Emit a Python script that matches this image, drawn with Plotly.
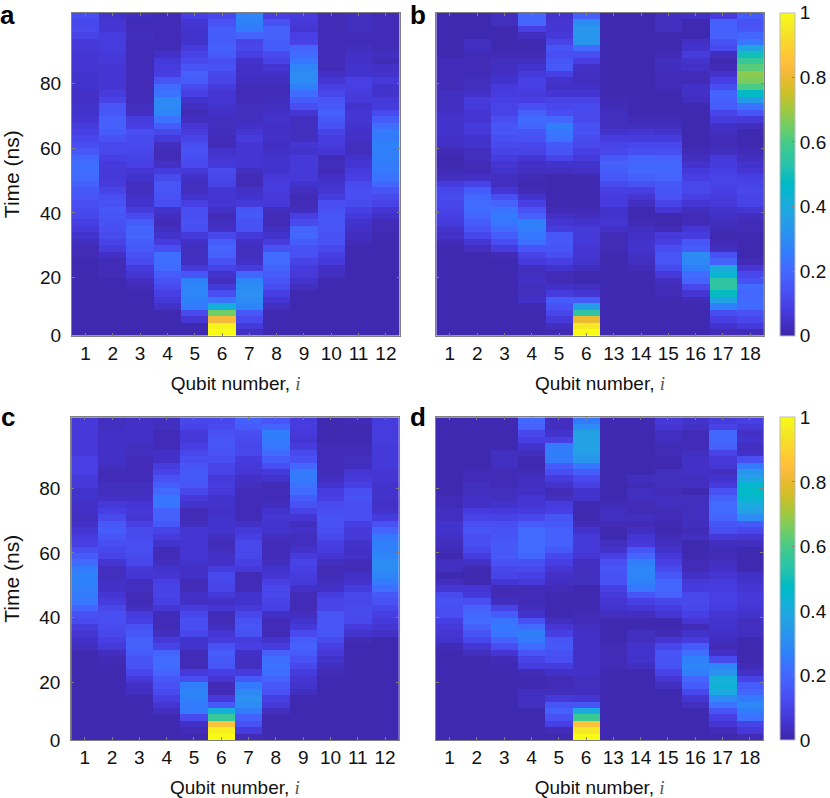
import numpy as np
import plotly.graph_objects as go

time_ns = list(range(3, 102, 2))
qubits_left = ["1","2","3","4","5","6","7","8","9","10","11","12"]
qubits_right = ["1","2","3","4","5","6","13","14","15","16","17","18"]
y_tick_vals = [2, 20, 40, 60, 80]
y_tick_text = ["0", "20", "40", "60", "80"]

# population x 100, one list per qubit, bottom row first
panel_a = [
[1,1,1,1,1,1,1,1,1,1, 1,1,2,2,3,5,7,9,11,12, 13,15,16,18,21,22,22,20,16,13, 11,9,8,6,5,5,4,4,5,5, 5,6,6,6,7,7,10,12,11,13],
[1,1,1,1,1,1,1,1,1,2, 2,2,4,8,10,12,13,14,15,16, 14,13,10,8,7,7,7,9,11,11, 14,17,18,18,16,15,10,8,6,6, 6,6,7,7,8,8,8,6,6,5],
[1,1,1,1,1,1,1,2,3,6, 8,12,14,16,17,19,19,17,12,8, 5,4,3,3,5,6,9,10,11,12, 12,13,9,8,3,3,2,2,2,2, 2,2,2,2,2,2,3,2,2,3],
[1,1,1,1,4,7,9,12,14,17, 21,22,22,13,8,5,3,2,3,5, 13,14,15,15,12,8,4,2,2,3, 7,11,17,23,28,29,29,23,21,15, 9,8,7,4,2,2,2,2,2,2],
[1,1,6,12,25,27,28,28,27,15, 7,3,3,3,4,7,13,14,13,13, 9,5,3,3,4,7,12,13,14,13, 10,8,6,3,2,3,5,9,12,17, 18,15,12,10,8,5,5,5,6,9],
[100,98,82,65,42,23,13,7,3,5, 10,14,18,19,17,11,4,3,2,4, 6,6,6,10,11,12,7,6,5,2, 2,3,3,3,4,5,6,6,8,10, 11,14,13,17,18,17,17,17,14,11],
[3,7,12,16,28,30,31,30,28,20, 8,4,3,3,4,7,14,14,16,15, 7,5,4,2,2,3,6,6,6,6, 8,6,4,3,3,3,2,2,2,3, 4,4,5,9,11,10,19,25,27,28],
[1,1,1,1,3,6,9,13,15,17, 19,21,21,14,8,5,3,2,2,3, 7,7,8,8,7,5,5,5,4,3, 4,4,4,5,4,3,3,2,2,3, 4,6,10,12,17,17,18,18,14,9],
[1,1,1,1,1,1,1,3,5,7, 8,10,14,14,17,20,19,12,9,3, 2,2,3,5,7,7,7,7,5,6, 3,3,3,3,6,13,17,22,27,30, 30,28,24,21,19,10,9,6,7,8],
[1,1,1,1,1,1,1,1,1,3, 4,7,9,11,14,14,15,15,15,14, 13,8,6,5,4,2,3,2,6,8, 8,10,14,16,18,16,15,11,9,6, 4,2,2,2,2,2,2,2,2,2],
[1,1,1,1,1,1,1,1,1,1, 1,1,1,1,2,3,4,5,7,9, 12,13,13,12,9,8,6,5,3,3, 4,4,5,6,6,5,7,8,9,9, 5,5,4,4,3,2,2,3,3,3],
[1,1,1,1,1,1,1,1,1,1, 1,1,1,1,1,1,2,2,4,6, 10,12,15,20,23,25,25,26,26,27, 25,25,22,17,12,8,7,5,5,7, 5,4,2,3,2,2,2,2,2,2],
]

panel_b = [
[1,1,1,1,1,1,1,1,1,1, 1,1,1,1,2,4,5,8,9,10, 11,12,11,8,3,2,1,1,2,4, 4,5,5,5,4,3,3,3,2,2, 2,2,2,1,1,1,1,1,1,1],
[1,1,1,1,1,1,1,1,1,1, 1,1,1,3,6,11,15,17,19,21, 21,20,17,10,4,2,2,3,3,5, 5,7,8,6,6,7,8,4,3,3, 2,2,2,2,3,3,1,1,1,1],
[1,1,1,1,1,1,1,1,1,1, 1,1,2,8,13,17,21,24,25,23, 19,13,6,3,3,5,6,8,10,12, 13,15,15,13,10,10,9,8,7,5, 4,3,3,2,1,1,1,1,3,3],
[1,1,1,1,1,4,3,3,4,3, 3,7,10,15,22,24,26,27,18,14, 9,5,2,1,2,3,4,6,10,11, 14,15,19,21,18,13,9,8,9,9, 7,5,3,2,1,1,3,9,19,20],
[1,3,7,11,14,17,8,4,2,2, 5,9,13,15,16,16,8,6,4,2, 1,1,1,1,1,3,5,10,15,16, 23,24,26,20,13,11,10,6,4,5, 9,16,15,13,15,10,7,6,6,5],
[100,95,80,55,36,17,6,3,1,1, 3,5,6,6,7,7,7,5,3,2, 1,1,1,1,1,4,5,7,9,11, 12,14,14,12,12,12,10,6,4,3, 3,4,9,13,21,33,33,33,30,18],
[1,1,1,1,1,1,1,1,1,1, 1,1,1,2,2,2,4,6,5,5, 8,8,9,12,16,17,18,16,11,10, 8,5,3,3,3,2,2,1,1,1, 1,1,1,1,1,1,1,1,1,1],
[1,1,1,1,1,1,1,1,1,1, 2,3,4,5,5,4,3,2,1,1, 3,6,9,14,18,20,20,19,13,11, 8,6,3,2,1,1,1,1,1,1, 1,1,1,1,1,1,1,1,1,1],
[1,1,1,1,1,1,2,2,3,7, 12,15,15,13,9,7,2,1,1,6, 10,14,15,16,19,20,20,18,13,11, 8,5,3,2,1,1,1,1,2,2, 2,3,3,2,1,1,1,3,3,3],
[1,1,1,1,1,2,6,11,19,21, 26,29,30,17,15,8,6,2,2,3, 6,9,11,11,9,7,5,3,2,1, 1,1,1,1,1,1,3,4,4,2, 2,4,5,8,5,4,1,1,1,4],
[2,5,9,13,27,37,48,55,55,44, 40,18,14,3,2,1,2,3,4,5, 7,8,9,10,10,9,8,7,3,2, 2,3,4,8,10,17,18,19,13,9, 5,2,1,3,12,14,18,18,18,8],
[2,7,11,14,21,21,20,21,14,11, 6,2,1,1,1,1,2,2,3,6, 10,10,11,10,9,6,5,3,2,1, 1,1,3,7,15,23,35,47,60,66, 68,62,57,50,38,24,20,15,14,17],
]

panel_c = [
[1,1,1,1,1,1,1,1,1,1, 1,1,1,1,3,4,6,8,12,14, 19,24,25,26,27,27,25,21,17,13, 9,8,6,4,3,4,4,5,5,7, 7,9,9,9,7,7,7,7,7,7],
[1,1,1,1,1,1,1,1,1,1, 1,1,2,3,7,9,11,12,13,13, 11,8,6,4,4,3,3,6,10,11, 13,15,17,16,12,9,7,4,3,3, 2,2,3,4,4,4,4,4,3,3],
[1,1,1,1,1,1,1,3,4,7, 11,14,15,17,18,18,16,14,9,8, 3,2,2,3,3,6,7,11,12,13, 13,12,12,9,6,7,6,4,3,3, 2,2,2,2,3,3,4,4,4,4],
[1,1,1,1,3,6,9,12,14,16, 19,21,21,19,10,7,3,2,2,2, 6,9,10,10,9,6,5,3,2,2, 5,8,10,16,18,18,24,24,21,17, 14,10,8,4,4,2,2,2,3,3],
[1,2,4,12,25,25,27,28,26,13, 7,2,2,2,5,5,11,13,13,11, 8,4,4,2,2,4,4,5,6,6, 6,6,6,3,2,2,5,7,11,15, 16,16,15,13,11,9,7,7,10,11],
[100,97,85,57,42,16,7,2,2,6, 9,15,16,17,14,8,6,3,2,2, 6,4,7,10,11,12,8,4,4,3, 2,3,5,5,5,4,5,5,7,8, 7,10,10,13,14,15,15,14,12,11],
[2,8,14,18,26,30,32,29,25,16, 8,3,3,4,9,8,14,15,14,11, 7,5,5,2,2,2,7,9,11,11, 11,9,7,4,2,2,2,2,2,3, 4,6,7,8,11,11,12,13,17,18],
[1,1,1,1,3,7,9,14,16,19, 22,23,22,18,8,5,2,2,2,4, 9,10,11,11,9,6,5,3,2,2, 2,3,5,5,6,5,3,2,2,2, 5,7,13,17,21,24,25,26,19,15],
[1,1,1,1,1,1,1,3,5,6, 8,11,14,17,18,17,12,7,5,3, 2,2,2,4,7,8,9,10,8,5, 3,3,4,3,6,10,14,17,21,23, 25,25,20,14,12,8,6,7,8,8],
[1,1,1,1,1,1,1,1,1,1, 2,3,5,7,9,12,15,15,15,15, 10,10,8,4,3,2,2,3,6,8, 9,12,13,14,14,13,12,9,8,5, 3,2,2,2,2,2,1,1,1,1],
[1,1,1,1,1,1,1,1,1,1, 1,1,1,1,1,2,5,8,11,12, 12,11,11,8,5,4,2,2,4,4, 5,7,7,9,13,13,13,14,13,9, 7,6,3,3,2,2,1,1,1,2],
[1,1,1,1,1,1,1,1,1,1, 1,1,1,1,1,1,4,6,7,9, 11,14,16,22,25,28,30,30,28,27, 26,24,19,14,8,5,4,5,5,5, 6,6,7,7,7,7,8,8,8,8],
]

panel_d = [
[1,1,1,1,1,1,1,1,1,1, 1,1,1,1,2,5,6,7,9,13, 13,14,12,6,3,1,3,3,1,2, 3,4,5,5,3,3,2,2,1,1, 1,1,1,1,1,1,1,1,1,1],
[1,1,1,1,1,1,1,1,1,1, 1,1,1,3,6,11,15,18,21,20, 18,13,7,6,1,1,1,4,8,11, 13,13,15,13,10,8,4,4,3,3, 2,2,1,1,1,1,1,1,1,1],
[1,1,1,1,1,1,1,1,1,1, 1,1,2,6,13,18,24,24,23,17, 10,3,2,2,6,10,11,14,16,16, 16,15,14,13,10,7,5,3,3,2, 2,2,3,3,3,1,1,1,1,1],
[1,1,1,1,1,3,3,3,1,1, 2,8,10,15,21,25,26,21,14,5, 3,2,2,2,7,9,12,14,20,21, 21,21,21,17,11,8,6,6,4,3, 3,2,1,1,3,5,9,11,18,20],
[1,2,9,14,18,15,7,3,2,2, 4,8,13,14,16,15,9,6,3,1, 1,1,1,2,3,4,6,9,11,16, 18,18,18,16,15,9,8,3,2,5, 8,13,17,25,26,25,9,5,3,3],
[100,95,85,58,40,15,6,3,3,3, 4,4,4,4,4,4,4,3,2,2, 1,1,1,1,3,3,3,3,6,7, 7,7,5,2,1,1,1,5,5,9, 12,17,24,33,36,37,37,37,30,25],
[1,1,1,1,1,1,1,1,1,1, 1,2,2,2,2,1,1,1,1,3, 5,6,7,9,14,14,15,13,9,5, 3,1,1,2,3,3,2,1,1,1, 1,1,1,1,1,1,1,1,1,1],
[1,1,1,1,1,1,1,1,1,1, 1,3,5,5,5,3,3,1,1,3, 6,9,15,24,27,28,28,26,20,15, 7,6,3,2,3,2,2,3,3,2, 3,1,1,1,1,1,1,1,1,1],
[1,1,1,1,1,1,1,1,3,6, 10,14,15,15,11,6,2,1,1,6, 8,11,18,20,20,16,12,9,7,5, 3,2,1,1,2,2,3,3,2,3, 3,3,1,1,2,2,3,3,6,7],
[1,1,1,1,1,3,6,11,17,20, 26,28,27,22,17,8,5,2,6,9, 11,12,11,8,7,4,2,2,1,1, 1,3,2,3,3,3,3,3,1,3, 3,4,4,4,3,2,2,2,4,5],
[1,2,6,9,15,23,30,40,43,42, 32,28,12,4,2,3,4,5,5,6, 8,9,9,8,8,6,4,3,2,2, 3,7,13,15,19,21,21,18,14,7, 5,3,6,7,10,18,20,20,10,8],
[2,7,10,23,26,29,25,20,17,10, 4,2,1,1,1,1,3,3,3,5, 6,7,7,6,5,4,1,1,1,1, 3,6,11,16,30,37,40,45,47,45, 37,33,25,13,4,3,5,4,7,9],
]

parula = [
(0.2422,0.1504,0.6603),(0.2504,0.1650,0.7076),(0.2578,0.1818,0.7511),(0.2647,0.1978,0.7952),
(0.2706,0.2147,0.8364),(0.2751,0.2342,0.8710),(0.2783,0.2559,0.8991),(0.2803,0.2782,0.9221),
(0.2813,0.3006,0.9414),(0.2810,0.3228,0.9579),(0.2795,0.3447,0.9717),(0.2760,0.3667,0.9829),
(0.2699,0.3892,0.9906),(0.2602,0.4123,0.9952),(0.2440,0.4358,0.9988),(0.2206,0.4603,0.9973),
(0.1963,0.4847,0.9892),(0.1834,0.5074,0.9798),(0.1786,0.5289,0.9682),(0.1764,0.5499,0.9520),
(0.1687,0.5703,0.9359),(0.1540,0.5902,0.9218),(0.1460,0.6091,0.9079),(0.1380,0.6276,0.8973),
(0.1248,0.6459,0.8883),(0.1113,0.6635,0.8763),(0.0952,0.6798,0.8598),(0.0689,0.6948,0.8394),
(0.0297,0.7082,0.8163),(0.0036,0.7203,0.7917),(0.0067,0.7312,0.7660),(0.0433,0.7411,0.7394),
(0.0964,0.7500,0.7120),(0.1408,0.7584,0.6842),(0.1717,0.7670,0.6554),(0.1938,0.7758,0.6251),
(0.2161,0.7843,0.5923),(0.2470,0.7918,0.5567),(0.2906,0.7973,0.5188),(0.3406,0.8008,0.4789),
(0.3909,0.8029,0.4354),(0.4456,0.8024,0.3909),(0.5044,0.7993,0.3480),(0.5616,0.7942,0.3045),
(0.6174,0.7876,0.2612),(0.6720,0.7793,0.2227),(0.7242,0.7698,0.1910),(0.7738,0.7598,0.1646),
(0.8203,0.7498,0.1535),(0.8634,0.7406,0.1596),(0.9035,0.7330,0.1774),(0.9393,0.7288,0.2100),
(0.9728,0.7298,0.2394),(0.9956,0.7434,0.2371),(0.9970,0.7659,0.2199),(0.9952,0.7861,0.1993),
(0.9892,0.8135,0.1884),(0.9786,0.8386,0.1766),(0.9676,0.8639,0.1643),(0.9610,0.8890,0.1537),
(0.9597,0.9135,0.1423),(0.9628,0.9373,0.1265),(0.9691,0.9606,0.1064),(0.9769,0.9839,0.0805),
]
scale = [[i / 63, f"rgb({r*255:.0f},{g*255:.0f},{b*255:.0f})"] for i, (r, g, b) in enumerate(parula)]

W, H = 830, 798
FONT = "Liberation Sans, Arial, sans-serif"
TXT = "#111111"
AXC = "#808080"
FS = 19
MATH_I = '<span style="font-family:Liberation Serif;fill:#555555"><i>i</i></span>'

fx = lambda p: p / W
fy = lambda p: 1 - p / H

panels = [
    ("a", panel_a, qubits_left,  72.0, 400.5, 12.7, 335.7, False, 8, 14.5),
    ("b", panel_b, qubits_right, 437.3, 765.7, 12.7, 335.7, True, 419, 14.5),
    ("c", panel_c, qubits_left,  71.3, 399.7, 417.3, 740.3, False, 8, 417),
    ("d", panel_d, qubits_right, 437.0, 765.3, 417.3, 740.3, True, 419, 417),
]

fig = go.Figure()
annotations = []
for n, (name, data, cats, x0, x1, y0, y1, has_cb, lx, ly) in enumerate(panels, start=1):
    z = np.array(data, dtype=float).T / 100
    xk = "x" if n == 1 else f"x{n}"
    yk = "y" if n == 1 else f"y{n}"
    cb = None
    if has_cb:
        cb = dict(
            x=fx(781.7), xanchor="left", xpad=0, y=fy(y1), yanchor="bottom", ypad=0,
            lenmode="fraction", len=(y1 - y0) / H, thickness=15, thicknessmode="pixels",
            outlinewidth=1, outlinecolor="#bdbdbd",
            tickmode="array", tickvals=[0, 0.2, 0.4, 0.6, 0.8, 1],
            ticktext=["0", "0.2", "0.4", "0.6", "0.8", "1"],
            ticks="inside", ticklen=3, tickcolor=AXC, tickwidth=1,
            tickfont=dict(family=FONT, size=FS, color=TXT),
        )
    fig.add_trace(go.Heatmap(
        z=z, x=cats, y=time_ns, xaxis=xk, yaxis=yk, colorscale=scale,
        zmin=0, zmax=1, zsmooth=False, showscale=has_cb, colorbar=cb,
        hoverinfo="skip",
    ))
    fig.layout[f"xaxis{'' if n == 1 else n}"] = dict(
        domain=[fx(x0), fx(x1)], anchor=yk, type="category", categoryorder="array",
        categoryarray=cats, range=[-0.5, 11.5], showgrid=False, zeroline=False,
        showline=True, linecolor=AXC, linewidth=1, mirror="ticks", automargin=False,
        ticks="inside", ticklen=3, tickcolor=AXC, tickwidth=1,
        tickfont=dict(family=FONT, size=FS, color=TXT), ticklabelstandoff=0,
        title=dict(text="Qubit number, " + MATH_I, font=dict(family=FONT, size=FS, color=TXT), standoff=14),
    )
    fig.layout[f"yaxis{'' if n == 1 else n}"] = dict(
        domain=[fy(y1), fy(y0)], anchor=xk, range=[2, 102], showgrid=False, zeroline=False,
        showline=True, linecolor=AXC, linewidth=1, mirror="ticks", automargin=False,
        ticks="inside", ticklen=3, tickcolor=AXC, tickwidth=1,
        tickmode="array", tickvals=y_tick_vals, ticktext=y_tick_text,
        showticklabels=not has_cb, ticklabelstandoff=6,
        tickfont=dict(family=FONT, size=FS, color=TXT),
        title=dict(text="" if has_cb else "Time (ns)", font=dict(family=FONT, size=21, color=TXT), standoff=19),
    )
    annotations.append(dict(
        text=f"<b>{name}</b>", x=fx(lx), y=fy(ly), xref="paper", yref="paper",
        xanchor="center", yanchor="middle", showarrow=False,
        font=dict(family=FONT, size=26, color="#000000"),
    ))

fig.update_layout(
    width=W, height=H, margin=dict(l=0, r=0, t=0, b=0),
    paper_bgcolor="white", plot_bgcolor="white", showlegend=False,
    annotations=annotations,
)
fig.write_html("out.html", post_script="document.body.style.margin='0';", config={"displayModeBar": False})
